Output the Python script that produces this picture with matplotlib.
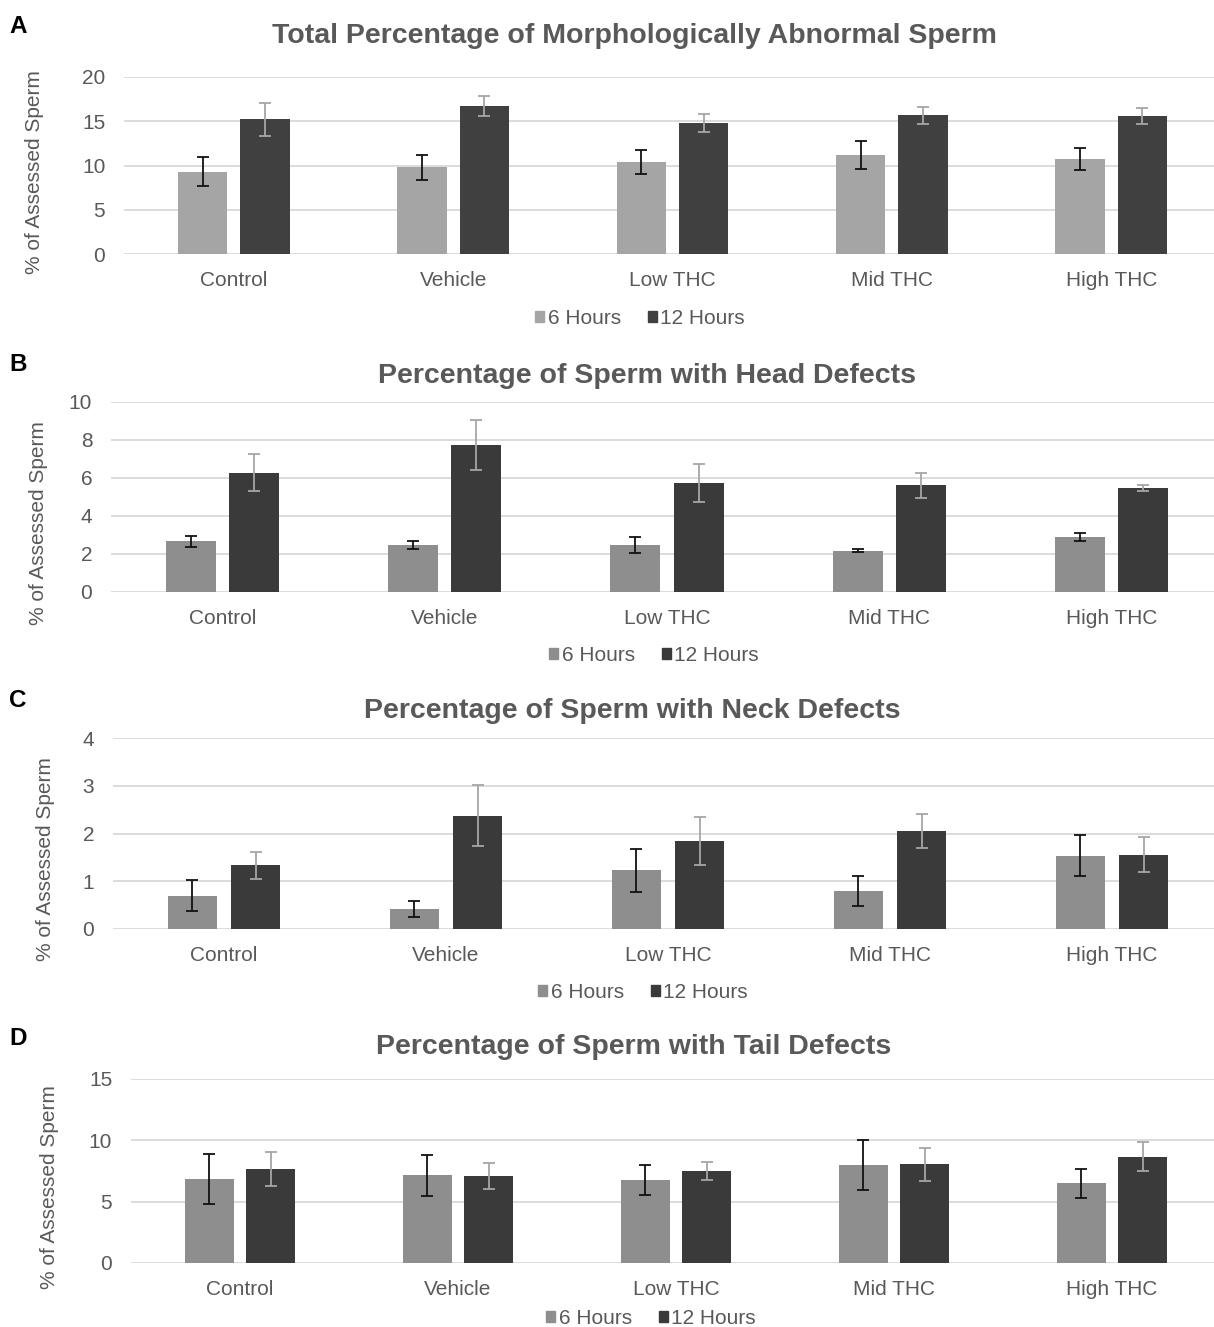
import matplotlib
matplotlib.use("Agg")
import matplotlib.pyplot as plt
import matplotlib.patches as mpatches
import numpy as np

FONT = "Liberation Sans"
TEXT_COLOR = "#595959"
GRID_COLOR = "#d9d9d9"
ERR_DARK = "#111111"
ERR_LIGHT = "#a6a6a6"

W, H = 1214, 1327
DPI = 100

groups = ["Control", "Vehicle", "Low THC", "Mid THC", "High THC"]
series_names = ["6 Hours", "12 Hours"]

# A: total abnormal
total_6h = [9.3, 9.8, 10.4, 11.2, 10.7]
total_6h_err = [1.65, 1.4, 1.37, 1.54, 1.24]
total_12h = [15.2, 16.7, 14.8, 15.65, 15.6]
total_12h_err = [1.85, 1.13, 1.0, 1.01, 0.9]

# B: head defects
head_6h = [2.68, 2.48, 2.46, 2.17, 2.9]
head_6h_err = [0.29, 0.23, 0.42, 0.08, 0.22]
head_12h = [6.27, 7.73, 5.75, 5.61, 5.47]
head_12h_err = [0.98, 1.33, 1.0, 0.64, 0.14]

# C: neck defects
neck_6h = [0.70, 0.42, 1.23, 0.79, 1.53]
neck_6h_err = [0.33, 0.17, 0.455, 0.31, 0.43]
neck_12h = [1.33, 2.37, 1.84, 2.05, 1.56]
neck_12h_err = [0.28, 0.64, 0.5, 0.36, 0.365]

# D: tail defects
tail_6h = [6.82, 7.15, 6.77, 7.99, 6.5]
tail_6h_err = [2.05, 1.65, 1.25, 2.0, 1.17]
tail_12h = [7.66, 7.09, 7.5, 8.04, 8.67]
tail_12h_err = [1.36, 1.06, 0.71, 1.33, 1.18]

titles = [
    "Total Percentage of Morphologically Abnormal Sperm",
    "Percentage of Sperm with Head Defects",
    "Percentage of Sperm with Neck Defects",
    "Percentage of Sperm with Tail Defects",
]
letters = ["A", "B", "C", "D"]
yticks = [[0, 5, 10, 15, 20], [0, 2, 4, 6, 8, 10], [0, 1, 2, 3, 4], [0, 5, 10, 15]]

panels = [
    (total_6h, total_6h_err, total_12h, total_12h_err),
    (head_6h, head_6h_err, head_12h, head_12h_err),
    (neck_6h, neck_6h_err, neck_12h, neck_12h_err),
    (tail_6h, tail_6h_err, tail_12h, tail_12h_err),
]

# pixel layout per panel: axes box (left, top, right, bottom), title (x, baseline),
# letter baseline, ylabel (x, y), legend centre (x, y)
layout = [
    dict(box=(124, 77, 1221, 254), title=(634, 43), letter=33, ylab=(35, 172), leg=(640, 318.5)),
    dict(box=(111, 402, 1223, 592), title=(647, 383), letter=371, ylab=(39, 523), leg=(654, 655.5)),
    dict(box=(113, 738, 1223, 929), title=(632, 718), letter=707, ylab=(46, 859), leg=(643, 992.5)),
    dict(box=(131, 1079, 1221, 1263), title=(634, 1054), letter=1045, ylab=(50, 1187), leg=(651, 1318.5)),
]

colors = [("#a5a5a5", "#404040"), ("#8e8e8e", "#3a3a3a"),
          ("#8e8e8e", "#3a3a3a"), ("#8e8e8e", "#3a3a3a")]

plt.rcParams["font.family"] = FONT

fig = plt.figure(figsize=(W / DPI, H / DPI), dpi=DPI)


def px_axes(left, top, right, bottom):
    return fig.add_axes([left / W, 1 - bottom / H, (right - left) / W, (bottom - top) / H])


x = np.arange(len(groups))
width = 0.225
offset = 0.142

for i, (v6, e6, v12, e12) in enumerate(panels):
    lay = layout[i]
    c6, c12 = colors[i]
    ax = px_axes(*lay["box"])
    ax.bar(x - offset, v6, width, color=c6, zorder=2)
    ax.bar(x + offset, v12, width, color=c12, zorder=2)
    ax.errorbar(x - offset, v6, yerr=e6, fmt="none", ecolor=ERR_DARK,
                elinewidth=1.3, capsize=4, capthick=1.3, zorder=3)
    ax.errorbar(x + offset, v12, yerr=e12, fmt="none", ecolor=ERR_LIGHT,
                elinewidth=1.3, capsize=4, capthick=1.3, zorder=3)

    ax.set_xlim(-0.5, len(groups) - 0.5)
    ax.set_ylim(yticks[i][0], yticks[i][-1])
    ax.set_yticks(yticks[i])
    ax.set_xticks(x)
    ax.set_xticklabels(groups)
    ax.yaxis.grid(True, color=GRID_COLOR, linewidth=1.3, zorder=0)
    ax.set_axisbelow(True)
    for s in ax.spines.values():
        s.set_visible(False)
    ax.tick_params(axis="both", length=0, labelsize=15, colors=TEXT_COLOR)
    ax.tick_params(axis="x", pad=12.2)
    ax.tick_params(axis="y", pad=13.5)

    fig.text(lay["title"][0] / W, 1 - lay["title"][1] / H, titles[i],
             ha="center", va="baseline", fontsize=20.5, fontweight="bold",
             color=TEXT_COLOR)
    fig.text(9 / W, 1 - lay["letter"] / H, letters[i], ha="left", va="baseline",
             fontsize=17.5, fontweight="bold", color="black")
    fig.text(lay["ylab"][0] / W, 1 - lay["ylab"][1] / H, "% of Assessed Sperm",
             rotation=90, ha="center", va="center", fontsize=15, color=TEXT_COLOR)

    handles = [mpatches.Patch(color=c6, label=series_names[0]),
               mpatches.Patch(color=c12, label=series_names[1])]
    leg = fig.legend(handles=handles, loc="center", ncol=2, frameon=False,
                     bbox_to_anchor=(lay["leg"][0] / W, 1 - lay["leg"][1] / H),
                     fontsize=15, handlelength=0.45, handleheight=0.45,
                     handletextpad=0.15, columnspacing=1.3, borderpad=0)
    for t in leg.get_texts():
        t.set_color(TEXT_COLOR)

fig.savefig("out.png", dpi=DPI, facecolor="white")
